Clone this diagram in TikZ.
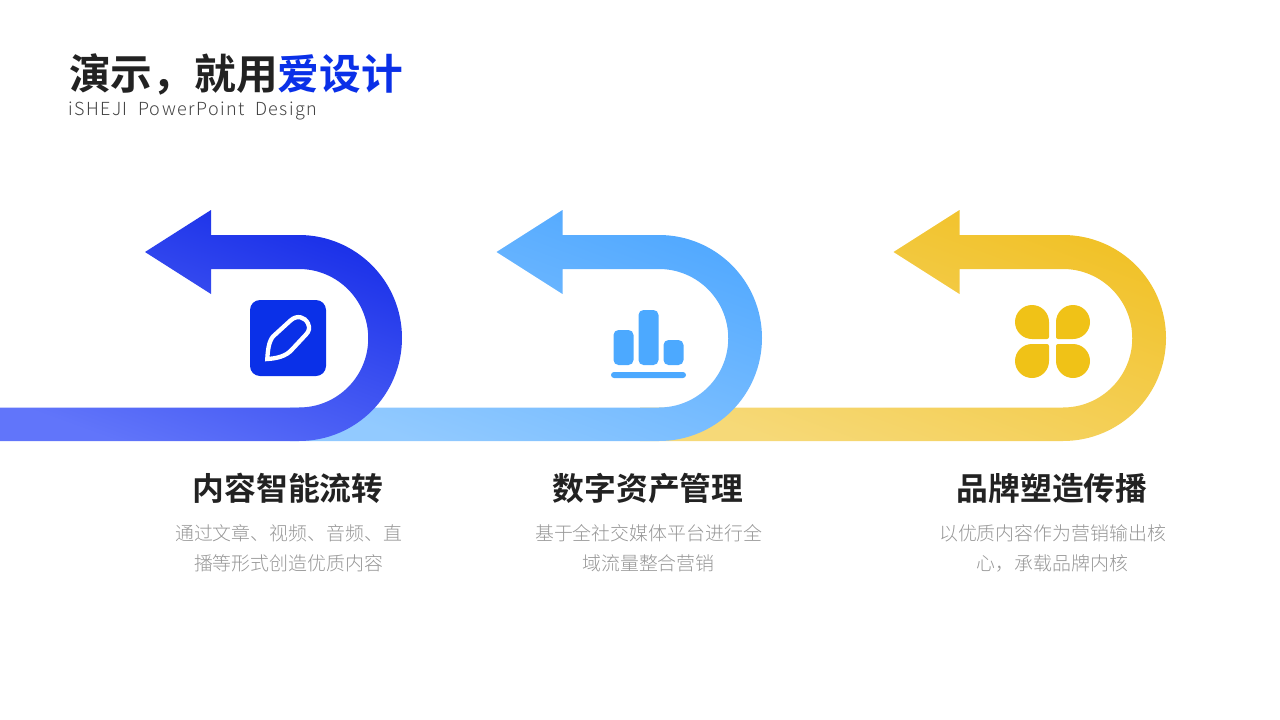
\documentclass[tikz,border=0pt]{standalone}
\usepackage{fontspec}
\usepackage{xcolor}
\usetikzlibrary{positioning}
\setmainfont{Open Sans}
\newfontfamily\cjkbold{Noto Sans CJK SC Bold}
\newfontfamily\cjklight{Noto Sans CJK SC Light}
\newfontfamily\latinlight[LetterSpace=8,WordSpace=1.9]{Noto Sans CJK SC Light}
\definecolor{inkcolor}{RGB}{34,34,34}
\definecolor{bluecolor}{RGB}{10,48,232}
\definecolor{skycolor}{RGB}{76,169,255}
\definecolor{goldcolor}{RGB}{240,194,23}
\definecolor{bodycolor}{RGB}{150,150,150}
\tikzset{
  title text/.style={
    anchor=west,
    inner sep=0pt,
    text=inkcolor,
    font=\cjkbold\fontsize{41.7}{41.7}\selectfont
  },
  sub text/.style={
    anchor=west,
    inner sep=0pt,
    text=inkcolor!85,
    font=\latinlight\fontsize{18}{18}\selectfont
  },
  head text/.style={
    inner sep=0pt,
    text=inkcolor,
    font=\cjkbold\fontsize{31.8}{31.8}\selectfont
  },
  body text/.style={
    inner sep=0pt,
    align=center,
    text=bodycolor,
    font=\cjklight\fontsize{18.9}{30}\selectfont
  }
}
% tip x, neck x, arc centre x, tail end x, near colour, far colour
\newcommand{\turnarrow}[6]{
  \path[top color=#5, bottom color=#6, shading angle=-20]
    (#1,252) -- (#2,210) -- (#2,235) -- (#3,235)
    arc[start angle=-90, end angle=90, radius=103]
    -- (#4,441) -- (#4,407.5) -- (#3,407.5)
    arc[start angle=90, end angle=-90, radius=69.25]
    -- (#2,269) -- (#2,294) -- cycle;
}
\begin{document}
\begin{tikzpicture}[x=1pt, y=-1pt]

  \useasboundingbox (0,0) rectangle (1280,720);

  % Heading
  \node[title text] at (69,74) (title) {演示，就用\textcolor{bluecolor}{爱设计}};
  \node[sub text] at (68,111) (subtitle) {iSHEJI PowerPoint Design};

  % Arrows, back to front
  \definecolor{goldnear}{RGB}{241,193,38}
  \definecolor{goldfar}{RGB}{246,217,120}
  \definecolor{skynear}{RGB}{80,168,255}
  \definecolor{skyfar}{RGB}{146,202,255}
  \definecolor{bluenear}{RGB}{24,46,232}
  \definecolor{bluefar}{RGB}{97,117,250}
  \turnarrow{893.5}{959.5}{1063}{640}{goldnear}{goldfar}
  \turnarrow{496.5}{562.5}{659}{290}{skynear}{skyfar}
  \turnarrow{145}{211}{299}{0}{bluenear}{bluefar}

  % Pen icon
  \fill[bluecolor, rounded corners=10pt] (250,300) rectangle (326,376);
  \draw[white, line width=4.3pt, line join=miter]
    (267.3,359) .. controls (267.8,351) and (268.5,342) .. (273,336.5)
    -- (290.5,320.5) .. controls (297,314.5) and (305,317) .. (308,323.5)
    .. controls (310,328) and (309,331.5) .. (306,334.5)
    -- (292,349.5) .. controls (286,356.5) and (276,358.5) .. cycle;

  % Bars icon
  \fill[skycolor, rounded corners=5pt] (613.5,330) rectangle (633.5,365);
  \fill[skycolor, rounded corners=5pt] (638.5,310) rectangle (658.5,365);
  \fill[skycolor, rounded corners=5pt] (663.5,340) rectangle (683.5,365);
  \fill[skycolor, rounded corners=3pt] (611,372) rectangle (686,378);

  % Petals icon
  \fill[goldcolor] (1015,322) arc[start angle=180, end angle=270, radius=17] arc[start angle=-90, end angle=0, radius=17]
    -- (1049,337) arc[start angle=0, end angle=90, radius=2] -- (1032,339) arc[start angle=90, end angle=180, radius=17];
  \fill[goldcolor] (1090,322) arc[start angle=0, end angle=-90, radius=17] arc[start angle=-90, end angle=-180, radius=17]
    -- (1056,337) arc[start angle=180, end angle=90, radius=2] -- (1073,339) arc[start angle=90, end angle=0, radius=17];
  \fill[goldcolor] (1015,361) arc[start angle=180, end angle=90, radius=17] arc[start angle=90, end angle=0, radius=17]
    -- (1049,346) arc[start angle=0, end angle=-90, radius=2] -- (1032,344) arc[start angle=-90, end angle=-180, radius=17];
  \fill[goldcolor] (1090,361) arc[start angle=0, end angle=90, radius=17] arc[start angle=90, end angle=180, radius=17]
    -- (1056,346) arc[start angle=180, end angle=270, radius=2] -- (1073,344) arc[start angle=-90, end angle=0, radius=17];

  % Labels
  \node[head text] at (288,488.5) (contenthead) {内容智能流转};
  \node[body text] at (288.5,548) (contentbody) {通过文章、视频、音频、直\\播等形式创造优质内容};
  \node[head text] at (648,488.5) (assethead) {数字资产管理};
  \node[body text] at (648.5,548) (assetbody) {基于全社交媒体平台进行全\\域流量整合营销};
  \node[head text] at (1052,488.5) (brandhead) {品牌塑造传播};
  \node[body text] at (1052.5,548) (brandbody) {以优质内容作为营销输出核\\心，承载品牌内核};

\end{tikzpicture}
\end{document}
